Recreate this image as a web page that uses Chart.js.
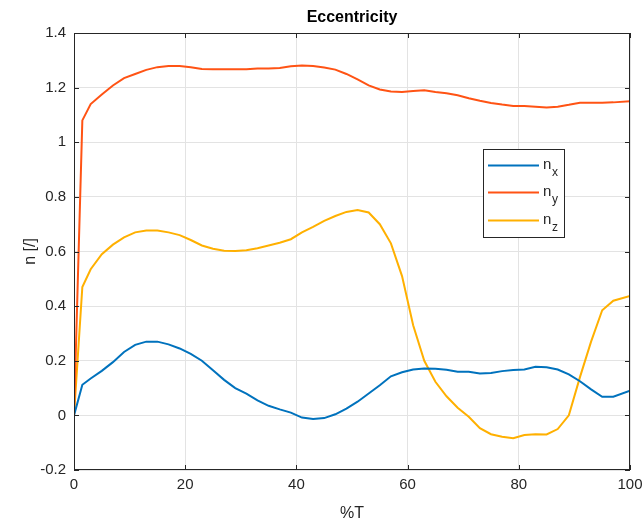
<!DOCTYPE html>
<html>
<head>
<meta charset="utf-8">
<script src="https://cdn.jsdelivr.net/npm/chart.js@4.4.1/dist/chart.umd.min.js"></script>
<style>
  html,body{margin:0;padding:0;background:#fff;}
  #c{display:block;}
</style>
</head>
<body>
<canvas id="c" width="643" height="527"></canvas>
<script>
// %T samples
const pctT = [0,1.5,3,5,7,9,11,13,15,17,19,21,23,25,27,29,31,33,35,37,39,41,43,45,47,49,51,53,55,57,59,61,63,65,67,69,71,73,75,77,79,81,83,85,87,89,91,93,95,97,100];
const nx = [0,0.112,0.135,0.163,0.195,0.232,0.258,0.27,0.27,0.26,0.245,0.225,0.2,0.165,0.13,0.1,0.08,0.055,0.035,0.022,0.01,-0.008,-0.013,-0.01,0.004,0.025,0.05,0.08,0.11,0.143,0.158,0.168,0.172,0.171,0.167,0.16,0.16,0.153,0.155,0.162,0.166,0.168,0.178,0.176,0.168,0.15,0.125,0.095,0.068,0.068,0.09];
const ny = [0,1.08,1.14,1.175,1.208,1.235,1.25,1.265,1.275,1.279,1.279,1.275,1.268,1.267,1.267,1.267,1.267,1.27,1.27,1.272,1.278,1.281,1.279,1.274,1.266,1.25,1.23,1.208,1.193,1.186,1.184,1.188,1.19,1.184,1.179,1.172,1.161,1.152,1.144,1.138,1.133,1.133,1.13,1.127,1.13,1.137,1.145,1.145,1.145,1.146,1.15];
const nz = [0,0.47,0.535,0.59,0.625,0.652,0.67,0.677,0.677,0.67,0.66,0.642,0.622,0.61,0.603,0.602,0.605,0.612,0.622,0.632,0.645,0.67,0.69,0.712,0.73,0.745,0.752,0.743,0.7,0.63,0.51,0.33,0.2,0.123,0.07,0.028,-0.005,-0.047,-0.069,-0.078,-0.084,-0.072,-0.069,-0.07,-0.05,0,0.14,0.27,0.385,0.42,0.437];

const seriesNames = ['x','y','z'];   // subscripts of n
const colors = ['#0072BD','#FF5314','#FFB000'];
const FONT = '"Liberation Sans", Arial, Helvetica, sans-serif';
const AX = '#262626';

const pts = arr => pctT.map((t,i)=>({x:t, y:arr[i]}));

const decorPlugin = {
  id:'decor',
  afterDraw(chart){
    const {ctx, chartArea:a, scales} = chart;
    ctx.save();
    // box
    ctx.strokeStyle = AX; ctx.lineWidth = 1;
    ctx.strokeRect(a.left+0.5, a.top+0.5, a.right-a.left-1, a.bottom-a.top-1);
    // inward ticks
    const tl = 5;
    ctx.beginPath();
    scales.x.ticks.forEach(t=>{
      const px = Math.round(scales.x.getPixelForValue(t.value))+0.5;
      ctx.moveTo(px,a.bottom); ctx.lineTo(px,a.bottom-tl);
      ctx.moveTo(px,a.top); ctx.lineTo(px,a.top+tl);
    });
    scales.y.ticks.forEach(t=>{
      const py = Math.round(scales.y.getPixelForValue(t.value))+0.5;
      ctx.moveTo(a.left,py); ctx.lineTo(a.left+tl,py);
      ctx.moveTo(a.right,py); ctx.lineTo(a.right-tl,py);
    });
    ctx.stroke();

    // title & axis labels
    ctx.fillStyle = '#000';
    ctx.textAlign = 'center'; ctx.textBaseline = 'middle';
    ctx.font = 'bold 16px ' + FONT;
    ctx.fillText('Eccentricity', (a.left+a.right)/2, 18);
    ctx.fillStyle = AX;
    ctx.font = '16px ' + FONT;
    ctx.fillText('%T', (a.left+a.right)/2, 514);
    ctx.save();
    ctx.translate(31, (a.top+a.bottom)/2);
    ctx.rotate(-Math.PI/2);
    ctx.fillText('n [/]', 0, 0);
    ctx.restore();

    // legend
    const lx = 483.5, ly = 149.5, lw = 81, lh = 88;
    ctx.fillStyle = '#fff';
    ctx.fillRect(lx, ly, lw, lh);
    ctx.strokeStyle = AX; ctx.lineWidth = 1;
    ctx.strokeRect(lx, ly, lw, lh);
    const rows = [165.5, 192.5, 220.5];
    seriesNames.forEach((s,i)=>{
      ctx.strokeStyle = colors[i]; ctx.lineWidth = 2;
      ctx.beginPath(); ctx.moveTo(488, rows[i]); ctx.lineTo(539, rows[i]); ctx.stroke();
      ctx.fillStyle = AX; ctx.textAlign = 'left'; ctx.textBaseline = 'alphabetic';
      ctx.font = '15px ' + FONT;
      ctx.fillText('n', 543, rows[i]+3);
      ctx.font = '12px ' + FONT;
      ctx.fillText(s, 552, rows[i]+10);
    });
    ctx.restore();
  }
};

new Chart(document.getElementById('c'), {
  type:'line',
  data:{
    datasets:[nx,ny,nz].map((d,i)=>({
      label:'n'+seriesNames[i], data: pts(d),
      borderColor: colors[i], borderWidth: 2, pointRadius: 0, tension: 0,
      fill:false
    }))
  },
  options:{
    responsive:false, animation:false, devicePixelRatio:1,
    layout:{ padding:{ top:33, right:13, left:0, bottom:0 } },
    plugins:{ legend:{display:false}, title:{display:false}, tooltip:{enabled:false} },
    scales:{
      x:{
        type:'linear', min:0, max:100,
        afterFit: s => { s.height = 57; s.paddingRight = 0; s.paddingLeft = 0; },
        ticks:{ stepSize:20, color:AX, font:{family:FONT, size:15}, padding:6, maxRotation:0 },
        grid:{ color:'#e3e3e3', drawTicks:false },
        border:{ display:false }
      },
      y:{
        min:-0.2, max:1.4,
        afterFit: s => { s.width = 74; s.paddingTop = 0; s.paddingBottom = 0; },
        ticks:{ stepSize:0.2, color:AX, font:{family:FONT, size:15}, padding:8,
                callback: v => String(+v.toFixed(1)) },
        grid:{ color:'#e3e3e3', drawTicks:false },
        border:{ display:false }
      }
    }
  },
  plugins:[decorPlugin]
});
</script>
</body>
</html>
